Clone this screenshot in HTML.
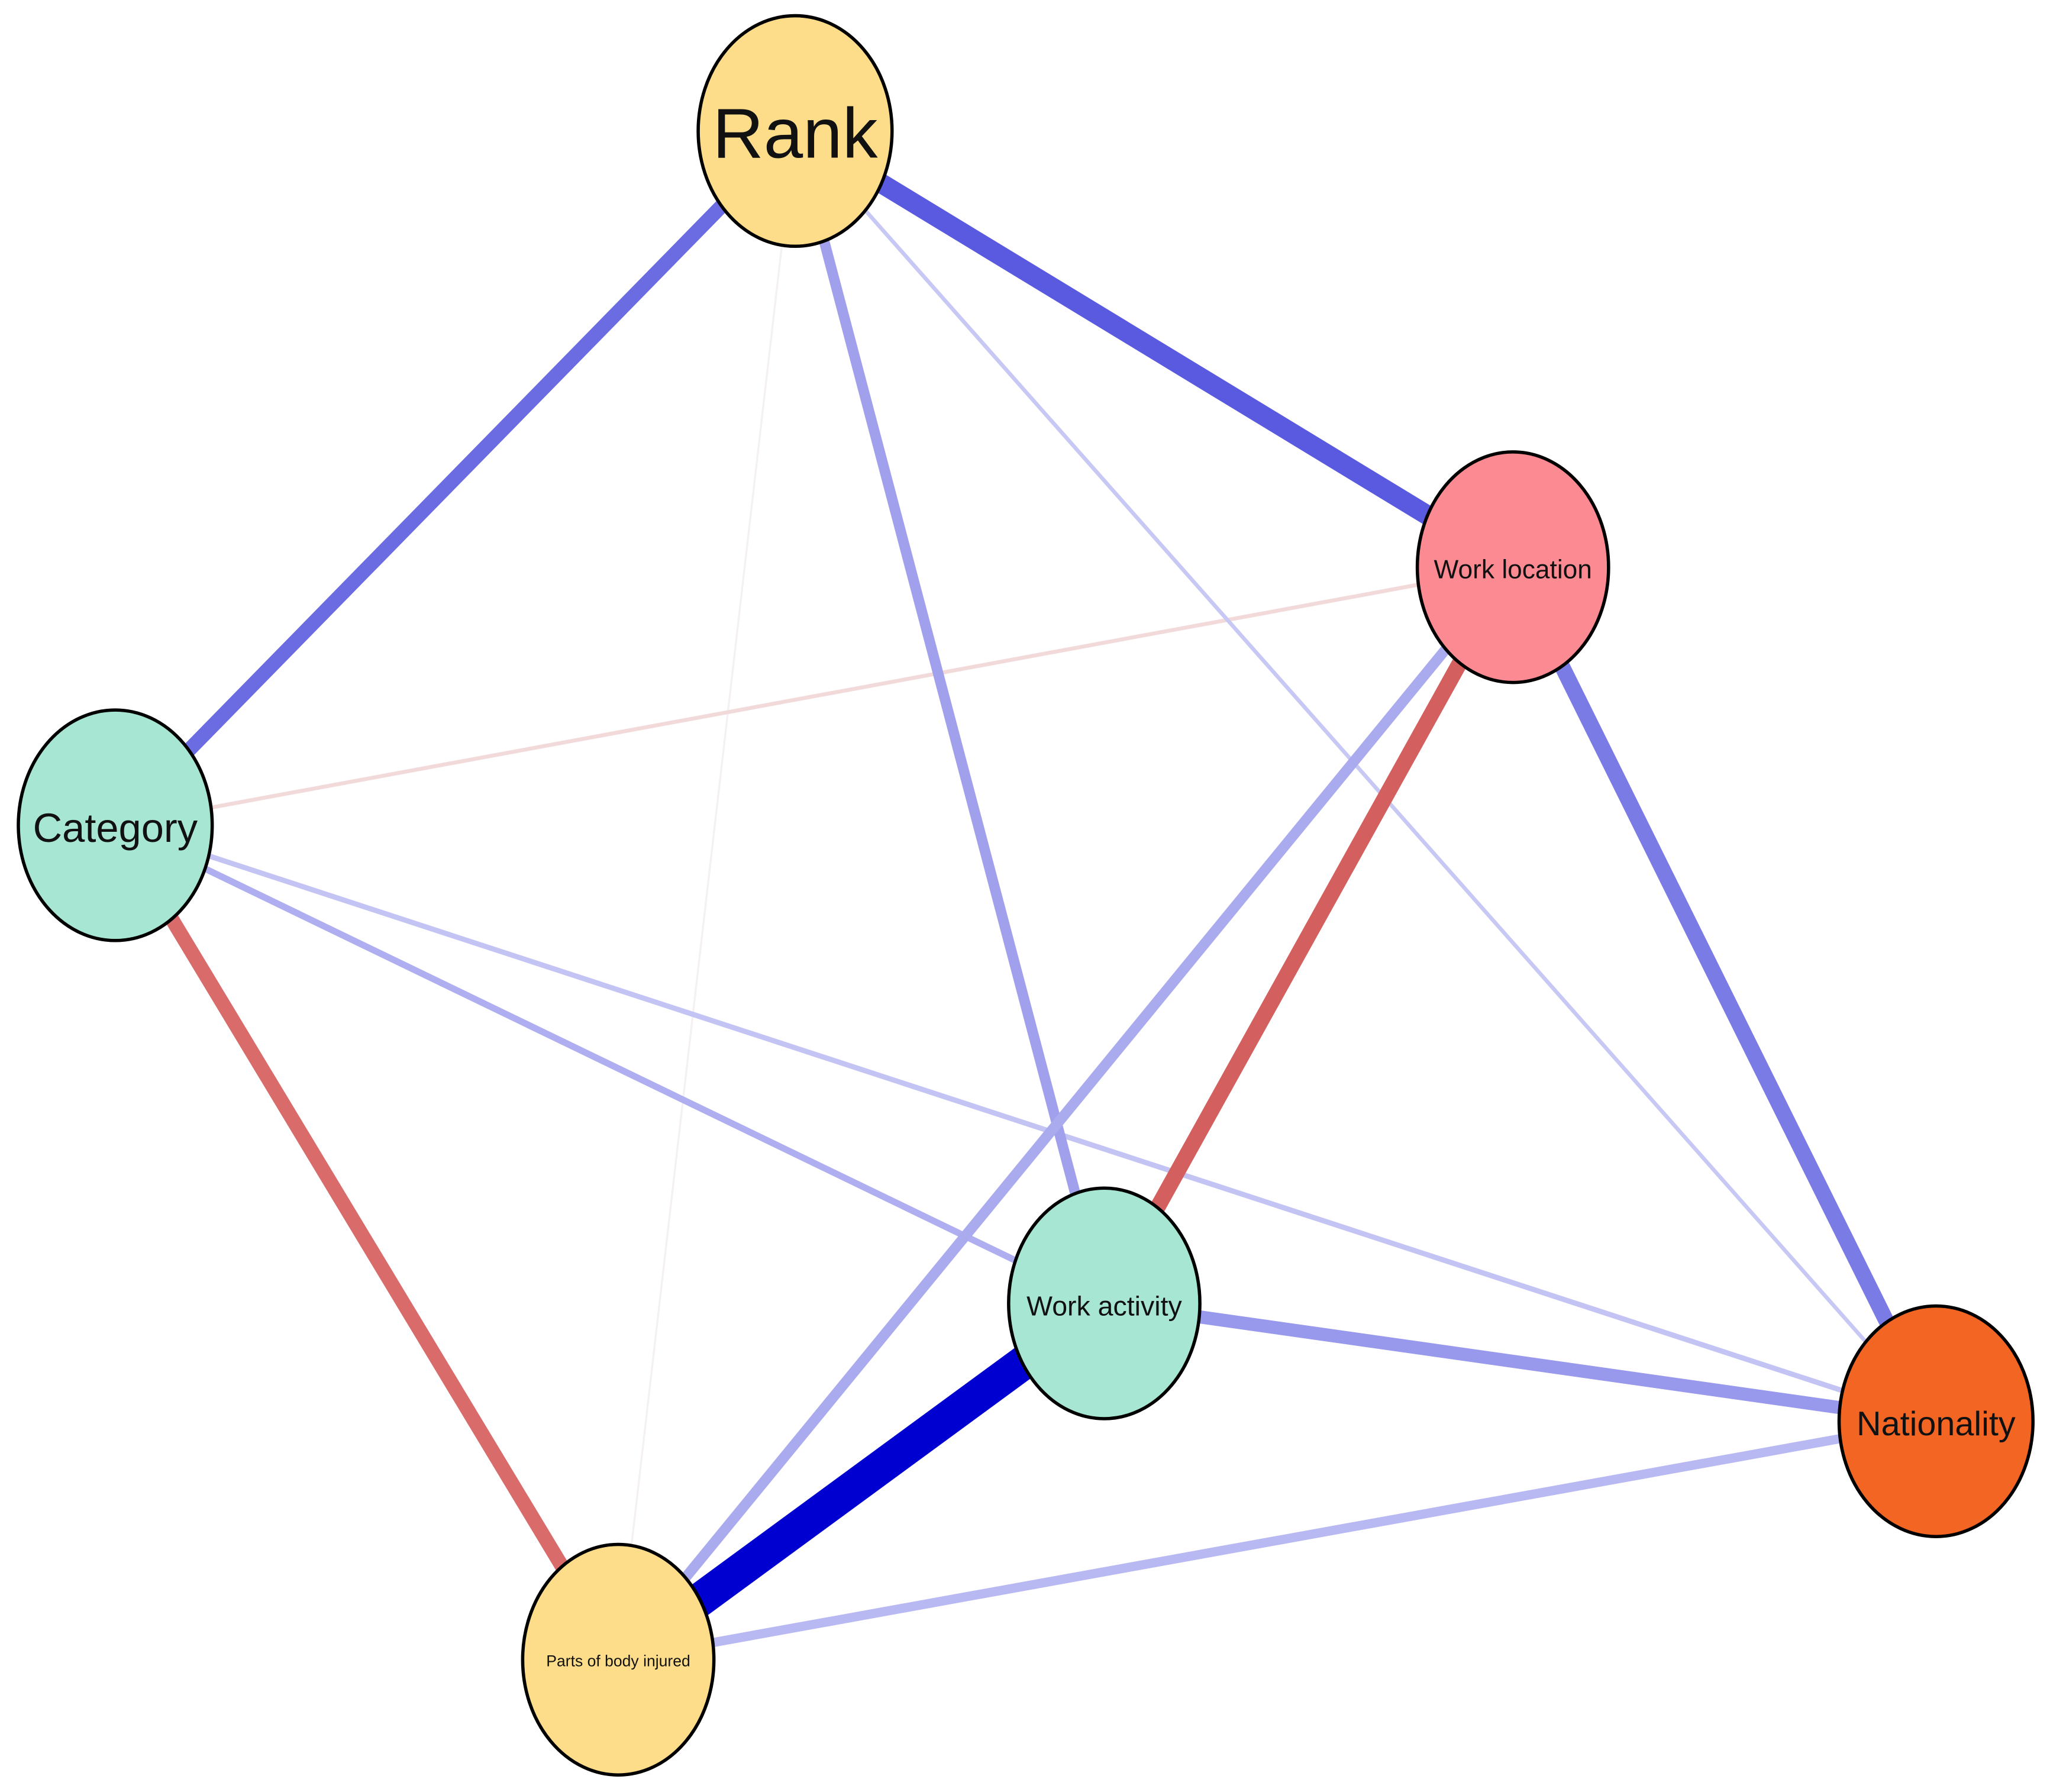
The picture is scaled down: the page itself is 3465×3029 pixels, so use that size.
<!DOCTYPE html>
<html><head><meta charset="utf-8"><style>html,body{margin:0;padding:0;background:#fff}svg{display:block}</style></head>
<body>
<svg width="3465" height="3029" viewBox="0 0 1565 1368" preserveAspectRatio="none" xmlns="http://www.w3.org/2000/svg" font-family="Liberation Sans, sans-serif">
<g stroke-linecap="butt" fill="none">
<line x1="607" y1="100" x2="472" y2="1267" stroke="#f4f0f4" stroke-width="1.5"/>
<line x1="1155" y1="433" x2="88" y2="630" stroke="#f2dada" stroke-width="3"/>
<line x1="607" y1="100" x2="1478" y2="1085" stroke="#c8c8f4" stroke-width="3"/>
<line x1="88" y1="630" x2="1478" y2="1085" stroke="#c4c4f4" stroke-width="4"/>
<line x1="88" y1="630" x2="843" y2="995" stroke="#aeaef0" stroke-width="5"/>
<line x1="607" y1="100" x2="88" y2="630" stroke="#6b6be2" stroke-width="11"/>
<line x1="607" y1="100" x2="1155" y2="433" stroke="#5a5ae0" stroke-width="15"/>
<line x1="607" y1="100" x2="843" y2="995" stroke="#a0a0ec" stroke-width="8"/>
<line x1="1155" y1="433" x2="472" y2="1267" stroke="#aaaaee" stroke-width="8"/>
<line x1="1155" y1="433" x2="843" y2="995" stroke="#d45f5f" stroke-width="12"/>
<line x1="1155" y1="433" x2="1478" y2="1085" stroke="#7b7be6" stroke-width="12"/>
<line x1="88" y1="630" x2="472" y2="1267" stroke="#d96b6b" stroke-width="11"/>
<line x1="843" y1="995" x2="1478" y2="1085" stroke="#9898ec" stroke-width="10"/>
<line x1="472" y1="1267" x2="1478" y2="1085" stroke="#b8b8f2" stroke-width="7"/>
<line x1="843" y1="995" x2="472" y2="1267" stroke="#0000d0" stroke-width="26"/>
</g>
<g stroke="#000" stroke-width="2.5">
<ellipse cx="607" cy="100" rx="74" ry="88" fill="#fddc8a"/>
<ellipse cx="1155" cy="433" rx="73" ry="88" fill="#fc8a92"/>
<ellipse cx="88" cy="630" rx="74" ry="88" fill="#a8e6d4"/>
<ellipse cx="843" cy="995" rx="73" ry="88" fill="#a8e6d4"/>
<ellipse cx="1478" cy="1085" rx="74" ry="88" fill="#f26522"/>
<ellipse cx="472" cy="1267" rx="73" ry="88" fill="#fddc8a"/>
</g>
<g fill="#111" text-anchor="middle" dominant-baseline="central">
<text x="607" y="102" font-size="54">Rank</text>
<text x="1155" y="435" font-size="20">Work location</text>
<text x="88" y="632" font-size="31">Category</text>
<text x="843" y="997" font-size="21">Work activity</text>
<text x="1478" y="1087" font-size="26">Nationality</text>
<text x="472" y="1268" font-size="12">Parts of body injured</text>
</g>
</svg>
</body></html>
